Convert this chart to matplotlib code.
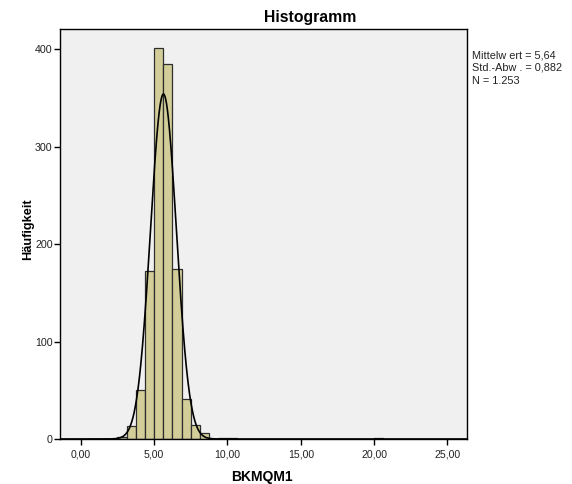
import numpy as np
import matplotlib
matplotlib.use("Agg")
import matplotlib.pyplot as plt

# Data
bin_width = 0.625
bin_starts = [2.5, 3.125, 3.75, 4.375, 5.0, 5.625, 6.25, 6.875, 7.5, 8.125, 9.375, 10.0, 20.0]
counts = [2, 13, 50, 172, 401, 385, 175, 41, 14, 6, 1, 1, 1]
mean_val = 5.64
sd_val = 0.882
n_val = 1253
x_ticks = [0, 5, 10, 15, 20, 25]
x_tick_labels = ["0,00", "5,00", "10,00", "15,00", "20,00", "25,00"]
y_ticks = [0, 100, 200, 300, 400]
stats_lines = ["Mittelw ert = 5,64", "Std.-Abw . = 0,882", "N = 1.253"]

plt.rcParams['font.family'] = ['Liberation Sans', 'DejaVu Sans']

W, H = 572, 484
fig = plt.figure(figsize=(W / 100, H / 100), dpi=100)
ax = fig.add_axes([60 / W, 1 - 439 / H, 407 / W, 410 / H])
ax.set_facecolor('#F0F0F0')

ax.bar(bin_starts, counts, width=bin_width, align='edge',
       color='#D3CE99', edgecolor='#2E2E2E', linewidth=0.9, zorder=2)

xs = np.linspace(-1.4, 26.3, 2000)
ys = n_val * bin_width / (sd_val * np.sqrt(2 * np.pi)) * np.exp(-0.5 * ((xs - mean_val) / sd_val) ** 2)
ax.plot(xs, ys, color='black', linewidth=1.2, zorder=3)

ax.set_xlim(-1.41, 26.33)
ax.set_ylim(0, 421)
ax.set_xticks(x_ticks)
ax.set_xticklabels(x_tick_labels)
ax.set_yticks(y_ticks)
ax.tick_params(axis='both', direction='out', length=4.3, width=1,
               labelcolor='#222222', color='black')
ax.tick_params(axis='x', labelsize=7.6, pad=3.3)
ax.tick_params(axis='y', labelsize=7.7, pad=1.0)
for s in ax.spines.values():
    s.set_linewidth(1.0)
    s.set_color('black')

fig.text(310 / W, 1 - 21.7 / H, "Histogramm", fontsize=11.3, fontweight='bold',
         ha='center', va='baseline')
fig.text(262 / W, 1 - 480.7 / H, "BKMQM1", fontsize=10, fontweight='bold',
         ha='center', va='baseline')
fig.text(28 / W, 1 - 229 / H, "Häufigkeit", fontsize=9.2, fontweight='bold',
         ha='center', va='center', rotation=90)

for line, base_y in zip(stats_lines, [58.3, 71.0, 83.5]):
    fig.text(471.7 / W, 1 - base_y / H, line, fontsize=7.8, va='baseline', ha='left',
             color='#222222')

fig.savefig("out.png", dpi=100, facecolor='white')
